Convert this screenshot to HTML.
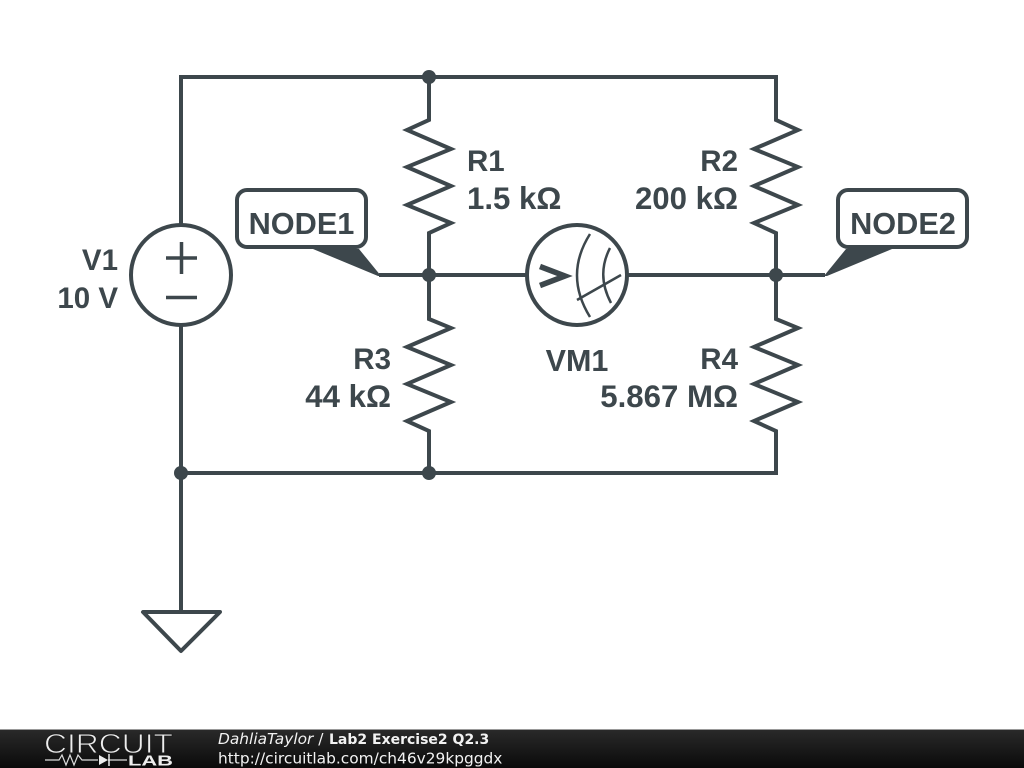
<!DOCTYPE html>
<html><head><meta charset="utf-8"><style>
html,body{margin:0;padding:0;background:#fff}
svg{display:block}
</style></head><body>
<svg width="1024" height="768" viewBox="0 0 1024 768" xmlns="http://www.w3.org/2000/svg">
<defs><linearGradient id="f" x1="0" y1="0" x2="0" y2="1"><stop offset="0" stop-color="#2a2a2a"/><stop offset="1" stop-color="#0a0a0a"/></linearGradient></defs>
<g fill="none" stroke="#3d474c" stroke-width="4" stroke-linejoin="miter" stroke-linecap="butt">
<path d="M181 225V77H776V120L798 130L754 149L798 167L754 186L798 205L754 223L776 233V319L798 328L754 347L798 365L754 384L798 402L754 421L776 431V473H181"/>
<path d="M429 77V120L407 130L451 149L407 167L451 186L407 205L451 223L429 233V319L451 328L407 347L451 365L407 384L451 402L407 421L429 431V473"/>
<path d="M181 325V612"/>
<path d="M379 275H527M627 275H825"/>
<circle cx="181" cy="275" r="50"/>
<path d="M166 258H197M181.500 242V274M166 297.500H197" stroke-width="3.500"/>
<circle cx="577" cy="275" r="50"/>
<path d="M143 612H220L181 651Z" stroke-linejoin="round"/>
<rect x="237" y="190" width="129" height="57" rx="10"/>
<rect x="838" y="190" width="129" height="57" rx="10"/>
<path d="M590 234Q564 275 590 317" stroke-width="2.500"/>
<path d="M610 248Q596 275 611 303" stroke-width="2.500"/>
<path d="M577 300L621 275" stroke-width="2.500"/>
<path d="M540 266.500L565 276L540 285.500" stroke-width="5.500"/>
</g>
<g fill="#3d474c">
<circle cx="429" cy="77" r="7"/><circle cx="429" cy="275" r="7"/><circle cx="776" cy="275" r="7"/><circle cx="181" cy="473" r="7"/><circle cx="429" cy="473" r="7"/>
<path d="M313 249H359L381 276H378Z"/>
<path d="M846 249H892L827 276H824Z"/>
</g>
<g font-family="'Liberation Sans',sans-serif" font-weight="700" font-size="29.500" fill="#3d474c">
<text x="467" y="171">R1</text>
<text x="467" y="209" font-size="31.200">1.5 kΩ</text>
<g text-anchor="end">
<text x="738" y="171">R2</text>
<text x="738" y="209" font-size="31.200">200 kΩ</text>
<text x="391" y="369">R3</text>
<text x="391" y="407" font-size="31.200">44 kΩ</text>
<text x="738" y="369">R4</text>
<text x="738" y="407" font-size="31.200">5.867 MΩ</text>
<text x="118" y="270">V1</text>
<text x="118" y="308">10 V</text>
</g>
<text x="577" y="371" text-anchor="middle" font-size="30.500">VM1</text>
<text x="301.500" y="234" text-anchor="middle" font-size="30.700">NODE1</text>
<text x="903" y="234" text-anchor="middle" font-size="30.700">NODE2</text>
</g>
<rect x="0" y="729" width="1024" height="39" fill="url(#f)"/>
<rect x="0" y="729" width="1024" height="1" fill="#999"/>
<text x="44" y="753" font-family="'Liberation Sans',sans-serif" font-size="27.500" fill="#eee" stroke="#1e1e1e" stroke-width="0.900" textLength="129" lengthAdjust="spacingAndGlyphs">CIRCUIT</text>
<text x="128" y="765.500" font-family="'Liberation Sans',sans-serif" font-weight="700" font-size="15" fill="#eee" textLength="45" lengthAdjust="spacingAndGlyphs">LAB</text>
<path d="M45 760H59L62 755L66 765L70 755L74 765L78 755L82 760H98M108 760H127" fill="none" stroke="#ddd" stroke-width="1.200"/>
<path d="M99 755L108 760L99 765Z" fill="#eee"/><path d="M109 754V766" stroke="#eee" stroke-width="1.500"/>
<g font-family="'DejaVu Sans',sans-serif" font-size="15.400" fill="#f2f2f2">
<text x="218" y="744"><tspan font-style="italic">DahliaTaylor</tspan> / <tspan x="329" font-weight="700" font-size="14">Lab2 Exercise2 Q2.3</tspan></text>
<text x="218" y="763.500">http://circuitlab.com/ch46v29kpggdx</text>
</g>
</svg>
</body></html>
